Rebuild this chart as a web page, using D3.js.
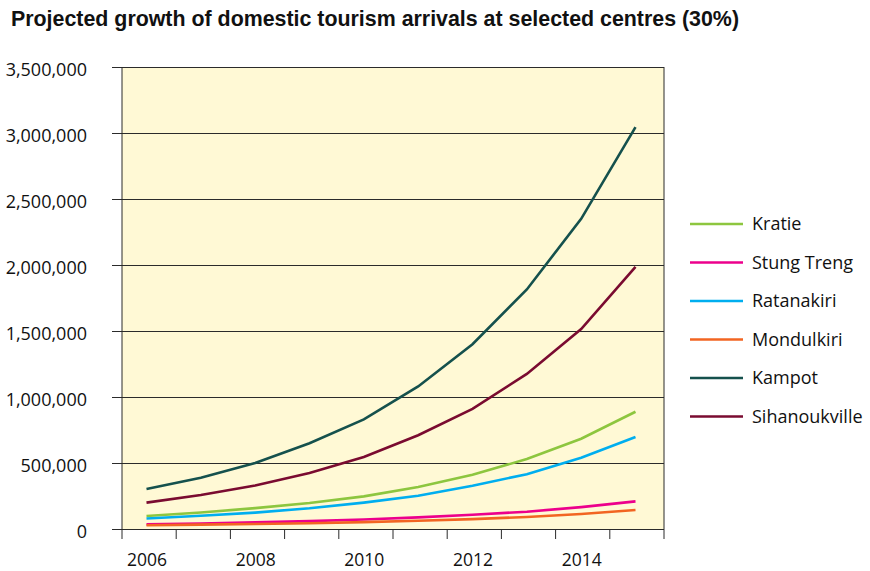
<!DOCTYPE html>
<html>
<head>
<meta charset="utf-8">
<script src="https://cdn.jsdelivr.net/npm/d3@7"></script>
<style>
  body { margin: 0; background: #fff; }
</style>
</head>
<body>
<script>
const panel_width = 870;
const panel_height = 571;

// values
const years = [2006, 2007, 2008, 2009, 2010, 2011, 2012, 2013, 2014, 2015];
const kratie = [98000, 125000, 158000, 197000, 247000, 318000, 411000, 530000, 684000, 888000];
const stungTreng = [35000, 42000, 50000, 60000, 72000, 88000, 108000, 131000, 166000, 209000];
const ratanakiri = [80000, 100000, 124000, 157000, 200000, 252000, 328000, 415000, 540000, 697000];
const mondulkiri = [28000, 33000, 38000, 44000, 52000, 62000, 75000, 91000, 114000, 144000];
const kampot = [303000, 388000, 500000, 650000, 830000, 1080000, 1400000, 1815000, 2350000, 3045000];
const sihanoukville = [200000, 257000, 330000, 425000, 545000, 710000, 910000, 1175000, 1515000, 1985000];

const seriesNames = ["Kratie", "Stung Treng", "Ratanakiri", "Mondulkiri", "Kampot", "Sihanoukville"];
const seriesColors = ["#8dc63f", "#ec008c", "#00aeef", "#f26522", "#15514d", "#7a0b30"];
const seriesValues = [kratie, stungTreng, ratanakiri, mondulkiri, kampot, sihanoukville];

const yTicks = [0, 500000, 1000000, 1500000, 2000000, 2500000, 3000000, 3500000];
const xTickLabels = [2006, 2008, 2010, 2012, 2014];

const titleText = "Projected growth of domestic tourism arrivals at selected centres (30%)";

const svg = d3.select("body")
    .append("svg")
    .attr("width", panel_width)
    .attr("height", panel_height);

const plotLeft = 122, plotRight = 664, plotTop = 67, plotBottom = 529;

const xBand = d3.scaleBand().domain(years).range([plotLeft, plotRight]);
const xPoint = d3.scalePoint().domain(years).range([146.5, 635.5]);
const y = d3.scaleLinear().domain([0, 3500000]).range([plotBottom, plotTop]);

// title
svg.append("text")
    .attr("x", 11)
    .attr("y", 26)
    .attr("font-family", "'Liberation Sans Narrow', 'Liberation Sans', sans-serif")
    .attr("font-weight", "bold")
    .attr("font-size", "22px")
    .attr("fill", "#111")
    .attr("textLength", 728)
    .attr("lengthAdjust", "spacingAndGlyphs")
    .text(titleText);

// plot background
svg.append("rect")
    .attr("x", plotLeft)
    .attr("y", plotTop)
    .attr("width", plotRight - plotLeft)
    .attr("height", plotBottom - plotTop)
    .attr("fill", "#fff9d5");

// y axis + gridlines in one go
const yAxis = svg.append("g")
    .attr("transform", `translate(${plotRight},0)`)
    .call(d3.axisLeft(y)
        .tickValues(yTicks)
        .tickSize(plotRight - plotLeft + 10)
        .tickPadding(25)
        .tickFormat(d3.format(",")));

yAxis.select(".domain").remove();
yAxis.selectAll(".tick line").attr("stroke", "#2b2b2b");
yAxis.selectAll(".tick text")
    .attr("y", 3)
    .attr("font-family", "'Open Sans', sans-serif")
    .attr("font-size", "18px")
    .attr("fill", "#111");

// x tick marks at band edges
const edges = years.map(d => xBand(d)).concat([plotRight]);
svg.append("g")
    .selectAll("line")
    .data(edges)
    .join("line")
    .attr("x1", d => d)
    .attr("x2", d => d)
    .attr("y1", (d, i) => (i === 0 || i === edges.length - 1) ? plotTop : plotBottom)
    .attr("y2", plotBottom + 10)
    .attr("stroke", "#2b2b2b");

// x labels under every other year
const xAxis = svg.append("g")
    .attr("transform", `translate(0,${plotBottom})`)
    .call(d3.axisBottom(xPoint)
        .tickValues(xTickLabels)
        .tickSize(0)
        .tickPadding(25));

xAxis.select(".domain").remove();
xAxis.selectAll(".tick text")
    .attr("font-family", "'Open Sans', sans-serif")
    .attr("font-size", "17.5px")
    .attr("fill", "#111");

// series lines
const line = d3.line()
    .x((d, i) => xPoint(years[i]))
    .y(d => y(d));

seriesValues.forEach((values, i) => {
    svg.append("path")
        .datum(values)
        .attr("d", line)
        .attr("fill", "none")
        .attr("stroke", seriesColors[i])
        .attr("stroke-width", 2.6);
});

// legend
const legend = svg.append("g");

seriesNames.forEach((name, i) => {
    const ly = 224 + i * 38.5;

    legend.append("line")
        .attr("x1", 690)
        .attr("x2", 743)
        .attr("y1", ly)
        .attr("y2", ly)
        .attr("stroke", seriesColors[i])
        .attr("stroke-width", 2.6);

    legend.append("text")
        .attr("x", 752)
        .attr("y", ly)
        .attr("dy", "0.35em")
        .attr("font-family", "'Open Sans', sans-serif")
        .attr("font-size", "18px")
        .attr("fill", "#111")
        .text(name);
});
</script>
</body>
</html>
